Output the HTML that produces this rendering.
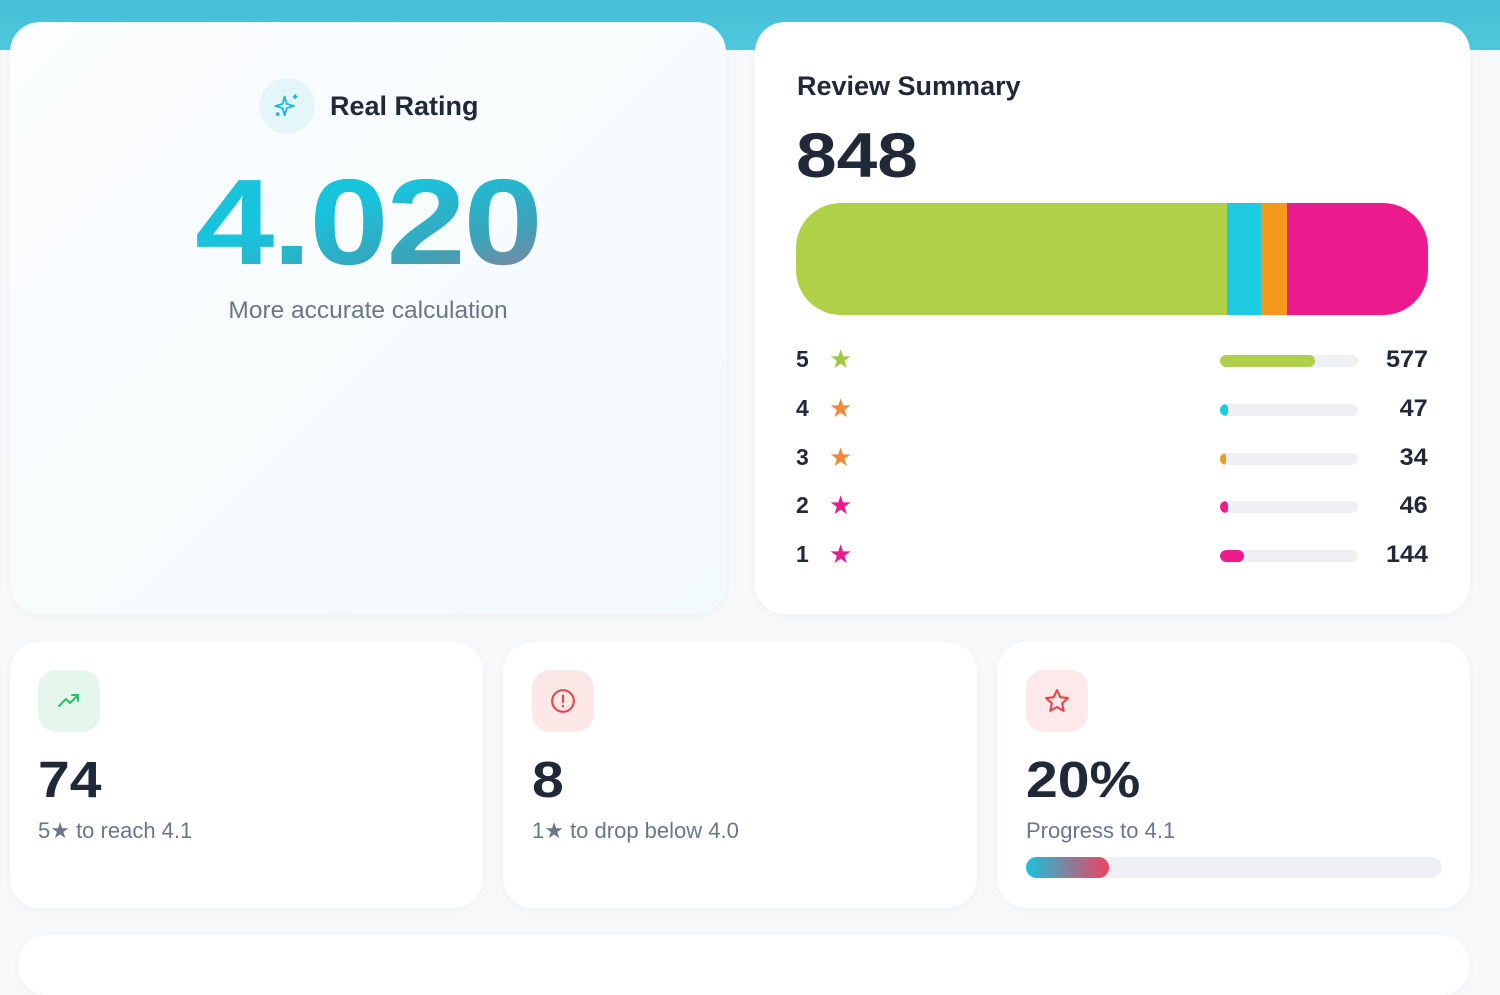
<!DOCTYPE html>
<html><head><style>
*{margin:0;padding:0;box-sizing:border-box}
body{width:1500px;height:948px;overflow:hidden;background:#f7f8f9;font-family:"Liberation Sans",sans-serif;position:relative}
.band{position:absolute;left:0;top:0;width:1500px;height:50px;background:linear-gradient(180deg,#45bfd6,#50c8dc)}
.card{position:absolute;background:#fff;border-radius:30px;box-shadow:0 2px 8px rgba(0,0,0,0.03)}
.abs{position:absolute}
.row{position:absolute;left:796px;width:632px;height:30px}
.row .n{position:absolute;left:0;top:0;font-size:23px;font-weight:bold;color:#1f2937}
.row .s{position:absolute;left:33px;top:-2px;font-size:26px}
.row .tr{position:absolute;left:424px;top:9px;width:138px;height:12px;border-radius:6px;background:#eef0f3;overflow:hidden}
.row .tr i{display:block;height:12px;border-radius:6px}
.row .c{position:absolute;right:0;top:0;font-size:24px;font-weight:bold;color:#1f2937;transform-origin:right;transform:scaleX(1.05)}
.ic{position:absolute;width:62px;height:62px;border-radius:18px}
.big{position:absolute;font-size:51px;font-weight:bold;color:#1f2937;transform-origin:left;transform:scaleX(1.12)}
.sub{position:absolute;font-size:22px;color:#6b7789}
</style></head><body>
<div class="band"></div>
<div class="card" style="left:10px;top:22px;width:716px;height:592px;background:linear-gradient(135deg,#fbfdfe,#f3fafc)"></div>
<div class="abs" style="left:259px;top:78px;width:56px;height:56px;border-radius:50%;background:#e4f6f9"></div>
<svg class="abs" style="left:273px;top:92px" width="28" height="28" viewBox="0 0 24 24" fill="none" stroke="#22b8d4" stroke-width="1.6" stroke-linejoin="round"><path d="M10 4 L11.8 10.2 L18 12 L11.8 13.8 L10 20 L8.2 13.8 L2 12 L8.2 10.2 Z"/><path d="M19 2v4M17 4h4"/><circle cx="4" cy="19" r="0.8"/></svg>
<div class="abs" style="left:330px;top:91px;font-size:27px;font-weight:bold;color:#1f2937">Real Rating</div>
<div class="abs" style="left:195px;top:152px;font-size:122px;font-weight:bold;letter-spacing:-2px;background:linear-gradient(160deg,#18c3dc 40%,#3aa3b8 70%,#a07a9a 100%);-webkit-background-clip:text;color:transparent;line-height:140px;transform-origin:left;transform:scaleX(1.17)">4.020</div>
<div class="abs" style="left:0;width:736px;top:297px;text-align:center;font-size:24.5px;color:#6b7789">More accurate calculation</div>

<div class="card" style="left:755px;top:22px;width:715px;height:592px"></div>
<div class="abs" style="left:797px;top:71px;font-size:27px;font-weight:bold;color:#1f2937">Review Summary</div>
<div class="abs" style="left:796px;top:120px;font-size:63px;font-weight:bold;color:#1f2937;transform-origin:left;transform:scaleX(1.16)">848</div>
<div class="abs" style="left:796px;top:203px;width:632px;height:112px;border-radius:45px;overflow:hidden;display:flex">
<div style="width:431px;background:#b0d147"></div><div style="width:34px;background:#1ccbe0"></div><div style="width:26px;background:#f39a1c"></div><div style="flex:1;background:#ec1a8c"></div></div>
<div class="row" style="top:346px"><span class="n">5</span><span class="s" style="color:#9ccc3c">★</span><div class="tr"><i style="width:95px;background:#b0d147"></i></div><span class="c">577</span></div>
<div class="row" style="top:395px"><span class="n">4</span><span class="s" style="color:#f08a3a">★</span><div class="tr"><i style="width:8px;background:#1ccbe0"></i></div><span class="c">47</span></div>
<div class="row" style="top:444px"><span class="n">3</span><span class="s" style="color:#f08a3a">★</span><div class="tr"><i style="width:6px;background:#f39a1c"></i></div><span class="c">34</span></div>
<div class="row" style="top:492px"><span class="n">2</span><span class="s" style="color:#ec1a8c">★</span><div class="tr"><i style="width:8px;background:#ec1a8c"></i></div><span class="c">46</span></div>
<div class="row" style="top:541px"><span class="n">1</span><span class="s" style="color:#ec1a8c">★</span><div class="tr"><i style="width:24px;background:#ec1a8c"></i></div><span class="c">144</span></div>

<div class="card" style="left:10px;top:642px;width:473px;height:266px"></div>
<div class="ic" style="left:38px;top:670px;background:#e5f7ec"></div>
<svg class="abs" style="left:57px;top:689px" width="24" height="24" viewBox="0 0 24 24" fill="none" stroke="#22c55e" stroke-width="2" stroke-linecap="round" stroke-linejoin="round"><path d="M2 17l7-7 4 4 8-8M15 6h6v6"/></svg>
<div class="big" style="left:38px;top:750px">74</div>
<div class="sub" style="left:38px;top:818px">5★ to reach 4.1</div>

<div class="card" style="left:503px;top:642px;width:474px;height:266px"></div>
<div class="ic" style="left:532px;top:670px;background:#fde8e8"></div>
<svg class="abs" style="left:550px;top:688px" width="26" height="26" viewBox="0 0 24 24" fill="none" stroke="#e5484d" stroke-width="2" stroke-linecap="round"><circle cx="12" cy="12" r="10"/><path d="M12 7v6M12 16.5v.5"/></svg>
<div class="big" style="left:532px;top:750px">8</div>
<div class="sub" style="left:532px;top:818px">1★ to drop below 4.0</div>

<div class="card" style="left:997px;top:642px;width:473px;height:266px"></div>
<div class="ic" style="left:1026px;top:670px;background:#fde8ea"></div>
<svg class="abs" style="left:1044px;top:688px" width="26" height="26" viewBox="0 0 24 24" fill="none" stroke="#e5484d" stroke-width="2" stroke-linejoin="round"><path d="M12 2l3 6.5 7 .8-5.2 4.8 1.4 7L12 17.6 5.8 21.1l1.4-7L2 9.3l7-.8z"/></svg>
<div class="big" style="left:1026px;top:750px">20%</div>
<div class="sub" style="left:1026px;top:818px">Progress to 4.1</div>
<div class="abs" style="left:1026px;top:857px;width:416px;height:21px;border-radius:11px;background:#eef0f3"></div>
<div class="abs" style="left:1026px;top:857px;width:83px;height:21px;border-radius:11px;background:linear-gradient(90deg,#18c3dc,#ef4060)"></div>

<div class="card" style="left:18px;top:935px;width:1452px;height:60px"></div>
</body></html>
